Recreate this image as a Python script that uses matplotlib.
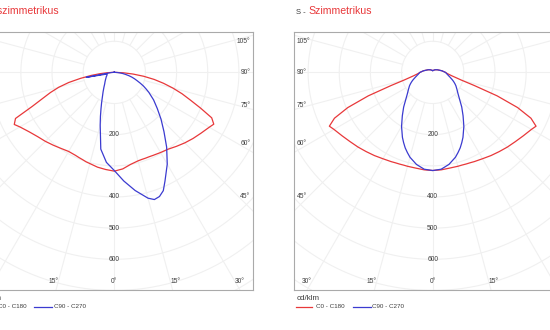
import numpy as np
import matplotlib.pyplot as plt

plt.rcParams['font.family'] = ['Liberation Sans', 'DejaVu Sans']

# gamma angles (degrees from nadir) of the intensity table
gamma = [0, 5, 10, 15, 17.5, 20, 22.5, 25, 30, 35, 40, 45, 50, 55, 60, 62.5,
         65, 67.5, 70, 72.5, 75, 77.5, 80, 82.5, 85, 87.5, 90,
         100, 120, 140, 160, 180]

# asymmetric luminaire, cd/klm
asym_c0 = [317, 311, 300, 294, 293, 293, 293, 294, 297, 301, 310, 320, 330, 340, 352, 360,
           345, 300, 260, 228, 195, 162, 130, 95, 60, 30, 5,
           2, 1, 1, 1, 1]
asym_c180 = [317, 313, 309, 303, 301, 298, 296, 294, 293, 298, 305, 313, 321, 333, 350, 362,
             350, 285, 245, 215, 185, 150, 110, 75, 45, 22, 5,
             2, 1, 1, 1, 1]
asym_c90 = [315, 350, 385, 418, 428, 424, 411, 385, 340, 293, 248, 212, 180, 154, 128, 115,
            103, 90, 78, 68, 58, 47, 36, 27, 18, 11, 5,
            2, 1, 1, 1, 1]
asym_c270 = [315, 290, 250, 175, 148, 125, 107, 92, 72, 58, 48, 42, 37, 33, 30, 29,
             27, 26, 25, 24, 24, 24, 92, 24, 15, 10, 5,
             2, 1, 1, 1, 1]

# symmetric luminaire, cd/klm
sym_c0 = [315, 314, 312, 312, 312, 313, 314, 316, 320, 326, 332, 339, 346, 355, 366, 374,
          348, 295, 220, 140, 95, 75, 62, 54, 48, 44, 41,
          30, 17, 11, 7, 6]
sym_c90 = [315, 312, 300, 282, 270, 258, 244, 230, 200, 170, 145, 122, 106, 95, 86, 81,
           76, 71, 66, 61, 57, 53, 50, 47, 45, 43, 41,
           30, 17, 11, 7, 6]

ring_values = [100, 200, 300, 400, 500, 600, 700, 800, 900]
ring_labels = [200, 400, 500, 600]
side_angles = [45, 60, 75, 90, 105]
bottom_angles = [0, 15, 30]

RED = '#e8383a'
BLUE = '#3b3bd0'
GRID = '#f0f0f0'
TEXT = '#3c3c3c'

PX = 0.3115          # pixels per cd/klm
HALF_W = 139.0       # half box width, px
TOP = 40.0           # box top above the centre, px
BOTTOM = 217.5       # box bottom below the centre, px


def half_plane_xy(values_left, values_right):
    g = np.radians(gamma)
    rl = np.array(values_left, dtype=float)
    rr = np.array(values_right, dtype=float)
    x = np.concatenate([-rl[::-1] * np.sin(g[::-1]), rr * np.sin(g)])
    y = np.concatenate([-rl[::-1] * np.cos(g[::-1]), -rr * np.cos(g)])
    return x, y


def draw_grid(ax):
    t = np.linspace(0, 2 * np.pi, 361)
    for r in ring_values:
        ax.plot(r * np.cos(t), r * np.sin(t), color=GRID, lw=0.8, zorder=1)
    for a in range(0, 360, 15):
        ang = np.radians(a)
        ax.plot([100 * np.sin(ang), 1200 * np.sin(ang)],
                [-100 * np.cos(ang), -1200 * np.cos(ang)],
                color=GRID, lw=0.8, zorder=1)


def draw_labels(ax, sides):
    # sides: which halves of the diagram carry angle labels (+1 right, -1 left)
    u = 1 / PX
    font = dict(fontsize=4.8, color=TEXT, va='center')
    for r in ring_labels:
        ax.text(0, -r, str(r), ha='center', **font)
    for sign in sides:
        ha = 'right' if sign > 0 else 'left'
        for a in side_angles:
            y = -124 * u / np.tan(np.radians(a))
            y = min(y, (TOP - 9.5) * u)
            ax.text(sign * 136 * u, y, f'{a}°', ha=ha, **font)
    y = -(BOTTOM - 8) * u
    ax.text(0, y, '0°', ha='center', **font)
    for a in bottom_angles[1:]:
        x = (BOTTOM - 8) * u * np.tan(np.radians(a))
        ax.text(x, y, f'{a}°', ha='left', **font)
        ax.text(-x, y, f'{a}°', ha='right', **font)


def draw_legend(ax):
    w = 2 * HALF_W
    h = TOP + BOTTOM
    tr = ax.transAxes
    ax.text(3.3 / w, -8.3 / h, 'cd/klm', transform=tr, fontsize=5.8,
            color=TEXT, va='center', ha='left', clip_on=False)
    yl = -16.7 / h
    ax.plot([2.6 / w, 18 / w], [yl, yl], transform=tr, color=RED, lw=0.9, clip_on=False)
    ax.text(22.3 / w, yl, 'C0 - C180', transform=tr, fontsize=4.5, color=TEXT,
            va='center', ha='left', clip_on=False)
    ax.plot([59 / w, 77 / w], [yl, yl], transform=tr, color=BLUE, lw=0.9, clip_on=False)
    ax.text(78.6 / w, yl, 'C90 - C270', transform=tr, fontsize=4.5, color=TEXT,
            va='center', ha='left', clip_on=False)


def draw_title(ax, prefix, word, x_word):
    w = 2 * HALF_W
    h = TOP + BOTTOM
    ax.text((x_word - 12) / w, 1 + 20 / h, prefix, transform=ax.transAxes,
            fontsize=5.5, color=TEXT, va='center', ha='left', clip_on=False)
    ax.text(x_word / w, 1 + 21 / h, word, transform=ax.transAxes,
            fontsize=7.6, color=RED, va='center', ha='left', clip_on=False)


def draw_panel(fig, cx, c0, c180, c90, c270, sides, prefix, word, x_word):
    left = (cx - HALF_W) / 550
    bottom = (330 - (72.4 + BOTTOM)) / 330
    ax = fig.add_axes([left, bottom, 2 * HALF_W / 550, (TOP + BOTTOM) / 330])
    ax.set_xlim(-HALF_W / PX, HALF_W / PX)
    ax.set_ylim(-BOTTOM / PX, TOP / PX)
    ax.set_xticks([])
    ax.set_yticks([])
    for s in ax.spines.values():
        s.set_color('#aaaaaa')
        s.set_linewidth(0.8)

    draw_grid(ax)
    x, y = half_plane_xy(c180, c0)
    ax.plot(x, y, color=RED, lw=0.9, zorder=3)
    x, y = half_plane_xy(c270, c90)
    ax.plot(x, y, color=BLUE, lw=0.9, zorder=4)
    draw_labels(ax, sides)
    draw_legend(ax)
    draw_title(ax, prefix, word, x_word)
    return ax


fig = plt.figure(figsize=(5.5, 3.3), dpi=100)
draw_panel(fig, 114.3, asym_c0, asym_c180, asym_c90, asym_c270, [1],
           'A - ', 'Aszimmetrikus', 15.5)
draw_panel(fig, 432.7, sym_c0, sym_c0, sym_c90, sym_c90, [-1],
           'S - ', 'Szimmetrikus', 14.3)
fig.savefig('out.png', dpi=100)
